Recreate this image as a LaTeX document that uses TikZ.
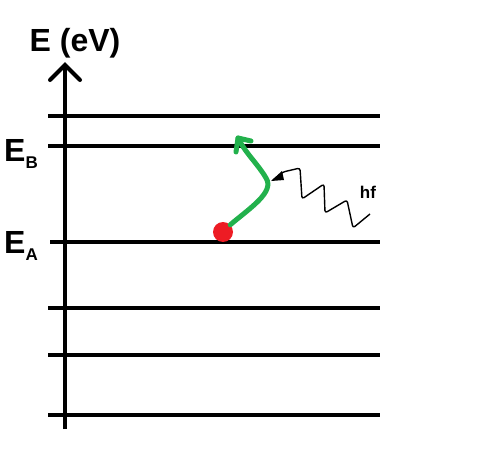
\documentclass[tikz,border=0pt]{standalone}
\usepackage{fontspec}
\setmainfont{Liberation Sans}
\usetikzlibrary{arrows.meta}
\definecolor{pgreen}{RGB}{34,177,76}
\definecolor{pred}{RGB}{237,28,36}
\newcommand{\lowsub}[1]{\raisebox{-7pt}{\bfseries\fontsize{17}{18}\selectfont #1}}
\begin{document}
\begin{tikzpicture}[x=1pt,y=-1pt,
  level/.style={line width=4pt},
  lbl/.style={font=\bfseries\fontsize{32}{36}\selectfont, inner sep=0pt}]
\useasboundingbox (0,0) rectangle (488,455);
% axis
\coordinate (ab) at (65,429);
\coordinate (at) at (65,66);
\draw[line width=4pt] (ab) -- (at);
\draw[line width=4pt, line cap=round, line join=miter] (50,80) -- (65,65) -- (80,80);
% levels
\foreach \n/\y/\xs in {l1/116/48, l2/146/48, l3/242/50, l4/308/48, l5/355/48, l6/415/48}{
  \coordinate (\n a) at (\xs,\y);
  \coordinate (\n b) at (380,\y);
  \draw[level] (\n a) -- (\n b);
}
% labels
\node[lbl, anchor=base] (title) at (75,52) {E (eV)};
\node[lbl, anchor=base west] (eb) at (4,161) {E\lowsub{B}};
\node[lbl, anchor=base west] (ea) at (4,253) {E\lowsub{A}};
\node[font=\bfseries\fontsize{17}{18}\selectfont, inner sep=0pt] (hf) at (368,192) {hf};
% electron
\node[circle, fill=pred, minimum size=20pt, inner sep=0pt] (dot) at (223,232) {};
\coordinate (top) at (238,138);
\draw[pgreen, line width=5pt, line cap=round, line join=round]
  (dot.north east) .. controls (250,208) and (275,192) .. (266,178)
  .. controls (258,164) and (246,154) .. (top);
\draw[pgreen, line width=5pt, line cap=round, line join=round] (236,152) -- (top) -- (251,141);
% photon
\coordinate (ps) at (370,214);
\coordinate (pe) at (273,180);
\draw[line width=1.4pt, line join=round, rounded corners=2.5pt] (ps) -- (353,228) -- (347,200) -- (325,213) -- (324,184) -- (302,199) -- (300,168) -- (283,172) -- (pe);
\fill (271,181) -- (282,171) -- (284,180) -- cycle;
\end{tikzpicture}
\end{document}
